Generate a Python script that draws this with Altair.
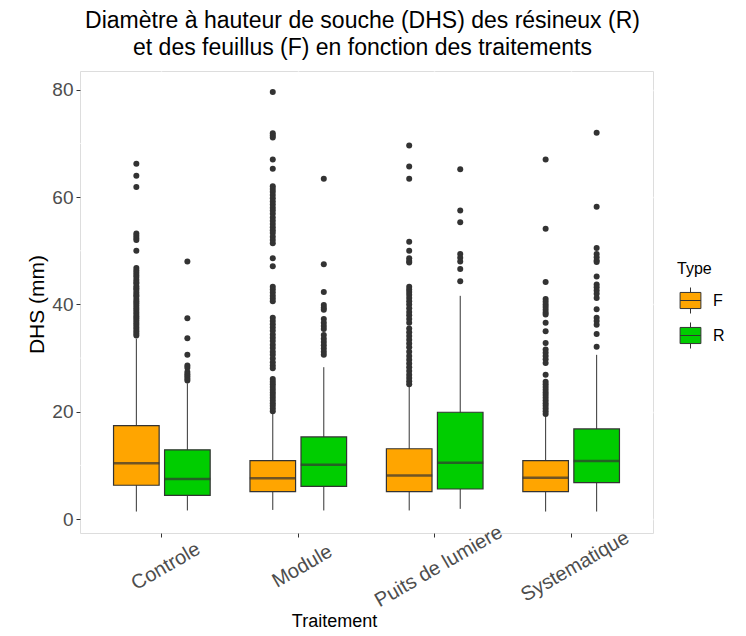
import altair as alt
import pandas as pd

# ---------------- data ----------------
traitements = ["Controle", "Module", "Puits de lumiere", "Systematique"]
types = ["F", "R"]

# box statistics, order: (Controle F, Controle R, Module F, Module R, Puits F, Puits R, Syst F, Syst R)
grp_trait = ["Controle", "Controle", "Module", "Module",
             "Puits de lumiere", "Puits de lumiere", "Systematique", "Systematique"]
grp_type = ["F", "R", "F", "R", "F", "R", "F", "R"]
w_low = [1.4, 1.6, 1.7, 1.6, 1.6, 1.9, 1.4, 1.4]
q1 = [6.3, 4.4, 5.1, 6.1, 5.1, 5.6, 5.1, 6.8]
median = [10.4, 7.45, 7.6, 10.1, 8.1, 10.5, 7.7, 10.8]
q3 = [17.4, 12.9, 10.9, 15.3, 13.1, 19.9, 10.9, 16.8]
w_high = [33.6, 25.3, 19.7, 28.3, 24.8, 41.6, 19.2, 30.6]

out_controle_F = [66.2, 64.0, 61.9, 53.2, 52.8, 52.4, 52.0, 50.0, 46.8, 46.3, 45.9, 45.5,
                  45.1, 44.6, 44.2, 43.9, 43.4, 43.0, 42.7, 42.2, 41.8, 41.5, 41.0, 40.6,
                  40.2, 39.8, 39.4, 39.0, 38.6, 38.2, 37.8, 37.4, 37.0, 36.6, 36.2, 35.8,
                  35.4, 35.0, 34.6, 34.2]
out_controle_R = [48.0, 37.4, 33.7, 30.6, 28.6, 28.2, 27.4, 27.0, 26.6, 26.2, 25.8]
out_module_F = [79.6, 71.9, 71.5, 71.1, 67.0, 65.3, 62.0, 61.5, 61.0, 60.4, 59.8, 59.2,
                58.6, 58.0, 57.5, 56.9, 56.2, 55.6, 55.0, 54.4, 53.8, 53.3, 52.6, 52.0,
                51.4, 48.6, 47.1, 43.3, 42.8, 42.2, 41.6, 41.1, 40.6, 37.5, 36.9, 36.3,
                35.7, 35.1, 34.4, 33.8, 33.2, 32.5, 31.9, 31.2, 30.6, 29.9, 29.2, 28.6,
                28.1, 26.1, 25.6, 25.1, 24.6, 24.1, 23.6, 23.1, 22.6, 22.1, 21.6, 21.1,
                20.6, 20.1]
out_module_R = [63.4, 47.5, 42.3, 39.9, 39.4, 39.0, 37.3, 36.6, 36.0, 35.4, 34.3, 33.6,
                33.0, 32.4, 31.8, 31.2, 30.6]
out_puits_F = [69.6, 65.7, 63.4, 51.7, 50.0, 48.6, 48.1, 47.8, 43.3, 42.8, 42.3, 41.8,
               41.2, 40.6, 40.0, 39.3, 38.6, 38.0, 37.3, 36.6, 35.5, 34.8, 34.1, 33.4,
               32.7, 32.0, 31.2, 30.4, 29.7, 29.0, 28.3, 27.6, 26.9, 26.3, 25.7, 25.1]
out_puits_R = [65.2, 57.5, 55.3, 49.4, 48.7, 48.0, 46.6, 44.3]
out_syst_F = [67.0, 54.1, 44.2, 41.0, 40.5, 40.0, 39.5, 39.0, 38.5, 38.1, 36.6, 35.0,
              32.8, 31.6, 31.0, 30.4, 29.8, 29.1, 26.9, 25.6, 25.1, 24.6, 24.1, 23.6,
              23.1, 22.6, 22.1, 21.6, 21.1, 20.6, 20.1, 19.6]
out_syst_R = [72.0, 58.2, 50.5, 49.4, 48.8, 48.2, 47.9, 45.2, 43.7, 43.2, 42.6, 42.0,
              41.2, 39.1, 37.5, 36.9, 36.2, 34.5, 32.1]

minor_grid = [10, 30, 50, 70]
y_ticks = [0, 20, 40, 60, 80]
colors = ["#FFA500", "#00CD00"]

# ---------------- tables ----------------
stats = pd.DataFrame({
    "Traitement": grp_trait, "Type": grp_type, "low": w_low, "q1": q1,
    "median": median, "q3": q3, "high": w_high,
})
out_lists = [out_controle_F, out_controle_R, out_module_F, out_module_R,
             out_puits_F, out_puits_R, out_syst_F, out_syst_R]
rows = []
for t, ty, vals in zip(grp_trait, grp_type, out_lists):
    for v in vals:
        rows.append({"Traitement": t, "Type": ty, "DHS": v})
outl = pd.DataFrame(rows)
minor = pd.DataFrame({"y": minor_grid})

FONT = "Liberation Sans"
DARK = "#333333"

x_enc = alt.X("Traitement:N", sort=traitements,
              scale=alt.Scale(domain=traitements, paddingInner=0, paddingOuter=0.1),
              axis=alt.Axis(title="Traitement", labelAngle=330, labelAlign="center",
                            labelBaseline="middle", labelPadding=29, labelOffset=4,
                            labelFontSize=20, labelColor="#4D4D4D", labelFont=FONT,
                            titleFontSize=18, titleFont=FONT, titleColor="#000000",
                            titleFontWeight="normal", titleX=254, titleY=88,
                            titleAlign="center", titleBaseline="middle",
                            grid=True, gridColor="white", gridWidth=1.4,
                            tickColor=DARK, tickSize=4, domain=False))
xo_enc = alt.XOffset("Type:N", sort=types,
                     scale=alt.Scale(domain=types, paddingInner=0.106, paddingOuter=0.39))
y_scale = alt.Scale(domain=[-2.6, 83.5], nice=False, zero=False)
y_axis = alt.Axis(title="DHS (mm)", values=y_ticks, labelFontSize=19, labelColor="#4D4D4D",
                  labelFont=FONT, labelPadding=3, titleFontSize=21, titleFont=FONT,
                  titleColor="#000000", titleFontWeight="normal", titleX=-43, titleY=233,
                  titleAlign="center", titleBaseline="middle",
                  grid=True, gridColor="white", gridWidth=1.4,
                  tickColor=DARK, tickSize=4, domain=False)

minor_layer = alt.Chart(minor).mark_rule(color="white", strokeWidth=0.7).encode(
    y=alt.Y("y:Q", scale=y_scale, axis=y_axis)
)

base = alt.Chart(stats)

whisker = base.mark_rule(color=DARK, strokeWidth=1).encode(
    x=x_enc, xOffset=xo_enc,
    y=alt.Y("low:Q", scale=y_scale, axis=y_axis),
    y2="high:Q",
)

legend_path = "M-0.8,-0.62H0.8V0.62H-0.8Z M-0.8,0H0.8 M0,-0.62V-1 M0,0.62V1"
box = base.mark_bar(stroke=DARK, strokeWidth=1.2).encode(
    x=x_enc, xOffset=xo_enc,
    y=alt.Y("q1:Q", scale=y_scale, axis=y_axis),
    y2="q3:Q",
    fill=alt.Fill("Type:N", scale=alt.Scale(domain=types, range=colors),
                  legend=alt.Legend(title="Type", orient="none", legendX=597, legendY=190,
                                    titleFontSize=16, titleFont=FONT, titleColor="#000000",
                                    titleFontWeight="normal", titlePadding=10,
                                    labelFontSize=16, labelFont=FONT, labelColor="#000000",
                                    labelOffset=9, symbolType=legend_path, symbolSize=676,
                                    symbolStrokeColor=DARK, symbolStrokeWidth=1,
                                    rowPadding=4, padding=0)),
)

med = base.mark_tick(color=DARK, thickness=2.5, size=46, orient="horizontal").encode(
    x=x_enc, xOffset=xo_enc,
    y=alt.Y("median:Q", scale=y_scale, axis=y_axis),
)

pts = alt.Chart(outl).mark_circle(color=DARK, size=36, opacity=1).encode(
    x=x_enc, xOffset=xo_enc,
    y=alt.Y("DHS:Q", scale=y_scale, axis=y_axis),
)

chart = alt.layer(minor_layer, whisker, box, med, pts).properties(
    width=573, height=462,
    autosize=alt.AutoSizeParams(type="none"),
    padding={"left": 72, "top": 63, "right": 72, "bottom": 96},
    title=alt.Title(["Diamètre à hauteur de souche (DHS) des résineux (R)",
                     "et des feuillus (F) en fonction des traitements"],
                    fontSize=23, font=FONT, fontWeight="normal", color="#000000",
                    anchor="middle", lineHeight=27, offset=11, dx=-4),
).configure_view(fill="#EBEBEB", stroke="transparent").configure(background="white")

chart.save("out.html", embed_options={"renderer": "svg", "actions": False})
